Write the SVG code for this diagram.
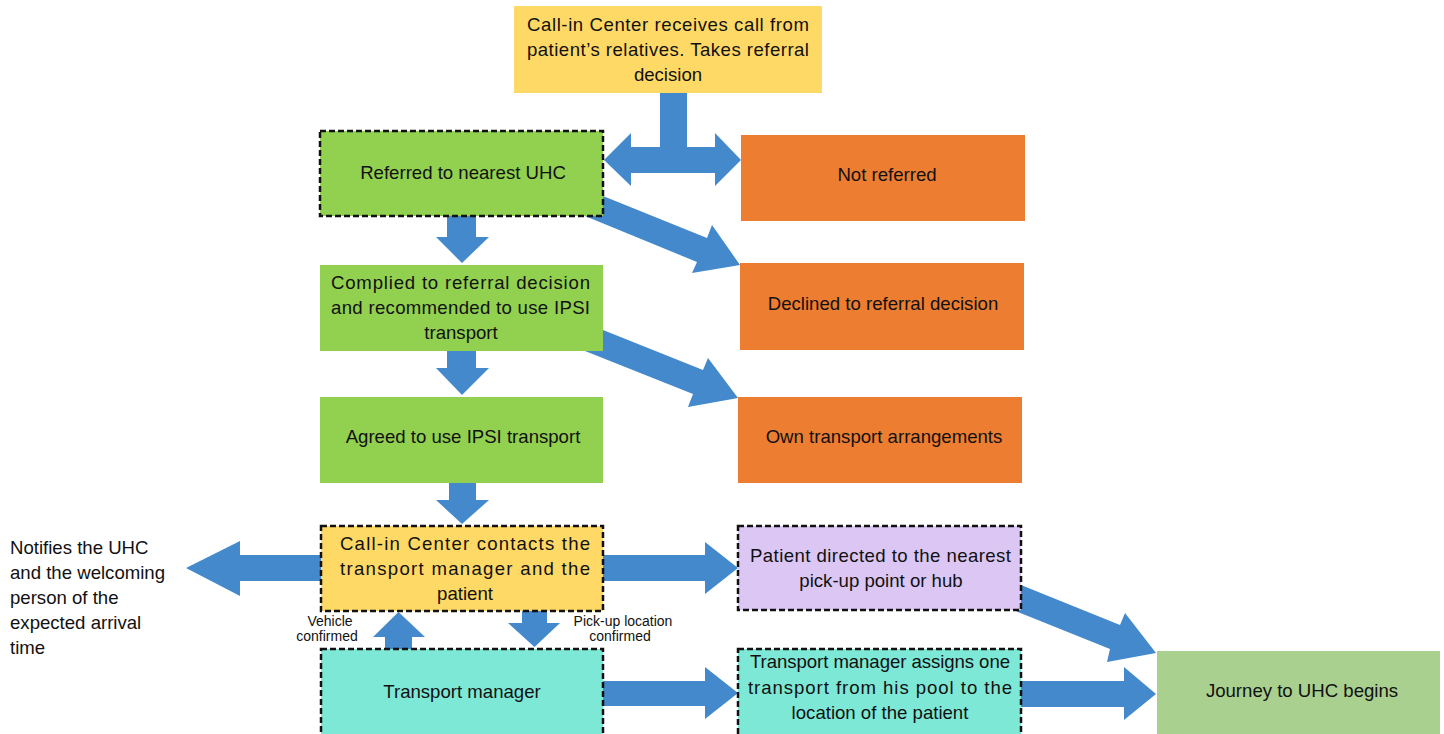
<svg xmlns="http://www.w3.org/2000/svg" width="1444" height="734" viewBox="0 0 1444 734">
<style>
text{font-family:"Liberation Sans",Arial,sans-serif;font-size:18.6px;fill:#111;}
.c{text-anchor:middle;}
.sm{font-size:14px;}
.arr{fill:#4389CB;}
.dash{stroke:#111;stroke-width:2.5;stroke-dasharray:6 3;}
.yel{fill:#FFD966;}
.grn{fill:#92D050;}
.org{fill:#ED7D31;}
.lav{fill:#DCC7F4;}
.teal{fill:#7EE8D7;}
.jr{fill:#A9D08E;}
</style>
<rect width="1444" height="734" fill="#fff"/>
<g id="connectors">
<polygon class="arr" points="660,93 687,93 687,147 715,147 715,133 741,160 715,186 715,173 631,173 631,186 604,160 631,133 631,147 660,147"/>
<polygon class="arr" points="447,216 476,216 476,237 489,237 462,263 436,237 447,237"/>
<polygon class="arr" points="447,351 476,351 476,368 489,368 462,395 436,368 447,368"/>
<polygon class="arr" points="449,483 476,483 476,500 489,500 462,524 436,500 449,500"/>
<polygon class="arr" points="603,196 707,238 712,225 740,265 692,273 697,262 585,216"/>
<polygon class="arr" points="603,330 703,370 708,358 738,398 688,407 693,394 585,351"/>
<polygon class="arr" points="1021,585 1120,625 1125,613 1156,653 1107,662 1110,649 1013,610"/>
<polygon class="arr" points="321,555 240,555 240,541 186,568 240,596 240,581 321,581"/>
<polygon class="arr" points="603,555 705,555 705,542 738,568 705,594 705,581 603,581"/>
<polygon class="arr" points="603,681 705,681 705,667 738,693 705,719 705,706 603,706"/>
<polygon class="arr" points="1021,681 1124,681 1124,667 1156,694 1124,720 1124,707 1021,707"/>
<polygon class="arr" points="385,649 412,649 412,637 425,637 398.5,612 373,637 385,637"/>
<polygon class="arr" points="522,611 547,611 547,623 560,623 534.5,647 508,623 522,623"/>
<text class="c sm" x="330" y="626">Vehicle</text>
<text class="c sm" x="327" y="641">confirmed</text>
<text class="c sm" x="623" y="626">Pick-up location</text>
<text class="c sm" x="620" y="641">confirmed</text>
</g>
<g id="call-center">
<rect class="yel" x="514" y="6" width="308" height="87"/>
<text x="527" y="31" textLength="282" lengthAdjust="spacing">Call-in Center receives call from</text>
<text x="527" y="56" textLength="282" lengthAdjust="spacing">patient’s relatives. Takes referral</text>
<text class="c" x="668" y="81">decision</text>
</g>
<g id="referred">
<rect class="grn dash" x="320" y="131" width="283" height="85"/>
<text class="c" x="463" y="179">Referred to nearest UHC</text>
</g>
<g id="not-referred">
<rect class="org" x="741" y="135" width="284" height="86"/>
<text class="c" x="887" y="181">Not referred</text>
</g>
<g id="complied">
<rect class="grn" x="320" y="265" width="283" height="86"/>
<text x="331" y="289" textLength="259" lengthAdjust="spacing">Complied to referral decision</text>
<text x="331" y="314" textLength="259" lengthAdjust="spacing">and recommended to use IPSI</text>
<text class="c" x="461" y="339">transport</text>
</g>
<g id="declined">
<rect class="org" x="740" y="263" width="284" height="87"/>
<text class="c" x="883" y="310">Declined to referral decision</text>
</g>
<g id="agreed">
<rect class="grn" x="320" y="397" width="283" height="86"/>
<text class="c" x="463" y="443">Agreed to use IPSI transport</text>
</g>
<g id="own-transport">
<rect class="org" x="738" y="397" width="284" height="86"/>
<text class="c" x="884" y="443">Own transport arrangements</text>
</g>
<g id="contacts">
<rect class="yel dash" x="321" y="526" width="282" height="85"/>
<text x="340" y="550" textLength="250" lengthAdjust="spacing">Call-in Center contacts the</text>
<text x="340" y="575" textLength="250" lengthAdjust="spacing">transport manager and the</text>
<text class="c" x="465" y="600">patient</text>
</g>
<g id="notifies">
<text x="10" y="554">Notifies the UHC</text>
<text x="10" y="579">and the welcoming</text>
<text x="10" y="604">person of the</text>
<text x="10" y="629">expected arrival</text>
<text x="10" y="654">time</text>
</g>
<g id="patient-directed">
<rect class="lav dash" x="738" y="526" width="283" height="84"/>
<text x="750" y="562" textLength="261" lengthAdjust="spacing">Patient directed to the nearest</text>
<text class="c" x="881" y="587">pick-up point or hub</text>
</g>
<g id="transport-manager">
<rect class="teal dash" x="321" y="649" width="282" height="88"/>
<text class="c" x="462" y="698">Transport manager</text>
</g>
<g id="assigns">
<rect class="teal dash" x="738" y="649" width="283" height="88"/>
<text x="750" y="668" textLength="260" lengthAdjust="spacing">Transport manager assigns one</text>
<text x="748" y="694" textLength="264" lengthAdjust="spacing">transport from his pool to the</text>
<text class="c" x="880" y="719">location of the patient</text>
</g>
<g id="journey">
<rect class="jr" x="1157" y="651" width="283" height="86"/>
<text class="c" x="1302" y="697">Journey to UHC begins</text>
</g>
</svg>
